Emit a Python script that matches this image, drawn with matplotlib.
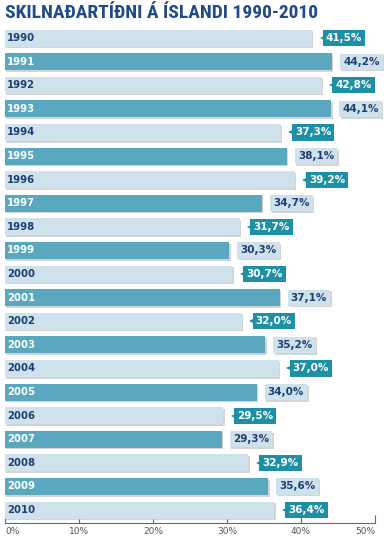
import matplotlib.pyplot as plt
import matplotlib.patheffects as pe
import matplotlib.transforms as mtransforms
from matplotlib.ticker import FuncFormatter

years = [str(y) for y in range(1990, 2011)]
rates = [41.5, 44.2, 42.8, 44.1, 37.3, 38.1, 39.2, 34.7, 31.7, 30.3, 30.7,
         37.1, 32.0, 35.2, 37.0, 34.0, 29.5, 29.3, 32.9, 35.6, 36.4]
xticks = [0, 10, 20, 30, 40, 50]

light = '#cfe2eb'
teal = '#5aa8bf'
boxteal = '#1d90a5'
navy = '#1c3f75'

fig = plt.figure(figsize=(3.9, 5.43), dpi=100)
ax = fig.add_axes([5 / 390, 20 / 543, 370 / 390, 496 / 543])

shadow = [pe.SimplePatchShadow(offset=(1, -1.2), shadow_rgbFace='#b8b8b8', alpha=0.6), pe.Normal()]
# small arrow tip drawn a few points right of the bar end
tip = ax.transData + mtransforms.ScaledTranslation(7.5 / 72, 0, fig.dpi_scale_trans)

for i, (yr, v) in enumerate(zip(years, rates)):
    even = i % 2 == 0
    bar = ax.barh(i, v, height=0.72, color=light if even else teal, zorder=2)
    for p in bar:
        p.set_path_effects(shadow)
    ax.text(0.3, i, yr, va='center', ha='left', fontsize=7.3, fontweight='bold',
            color=navy if even else 'white', zorder=3)
    lab = f'{v:.1f}%'.replace('.', ',')
    if even:
        ax.annotate(lab, (v, i), xytext=(10, 0), textcoords='offset points',
                    va='center', ha='left', fontsize=7.5, fontweight='bold', color='white',
                    bbox=dict(boxstyle='square,pad=0.3', fc=boxteal, ec='none'), zorder=4)
        ax.plot([v], [i], marker='<', ms=4, color=boxteal, markeredgewidth=0,
                linestyle='none', zorder=4, transform=tip)
    else:
        ax.annotate(lab, (v, i), xytext=(8, 0), textcoords='offset points',
                    va='center', ha='left', fontsize=7.5, fontweight='bold', color=navy,
                    bbox=dict(boxstyle='square,pad=0.3', fc=light, ec='none',
                              path_effects=shadow), zorder=4)

ax.set_xlim(0, 50)
ax.set_ylim(20.55, -0.47)
ax.set_xticks(xticks)
ax.xaxis.set_major_formatter(FuncFormatter(lambda x, p: f'{int(x)}%'))
ax.tick_params(axis='x', direction='in', length=6, width=0.8, colors='#666666',
               labelsize=6.5, pad=3, labelcolor='#555555')
ax.tick_params(axis='y', left=False, labelleft=False)
tl = ax.get_xticklabels()
tl[0].set_ha('left')
tl[-1].set_ha('right')
for s in ['top', 'left', 'right']:
    ax.spines[s].set_visible(False)
ax.spines['bottom'].set_color('#666666')
ax.spines['bottom'].set_linewidth(0.8)
ax.patch.set_alpha(0)

fig.text(5 / 390, 1 - 13 / 543, 'SKILNAÐARTÍÐNI Á ÍSLANDI 1990-2010', fontsize=14,
         fontweight='bold', color='#1f4b8a', va='center', ha='left',
         family=['Liberation Sans Narrow', 'Roboto Condensed', 'DejaVu Sans'])

fig.savefig('out.png', dpi=100)
